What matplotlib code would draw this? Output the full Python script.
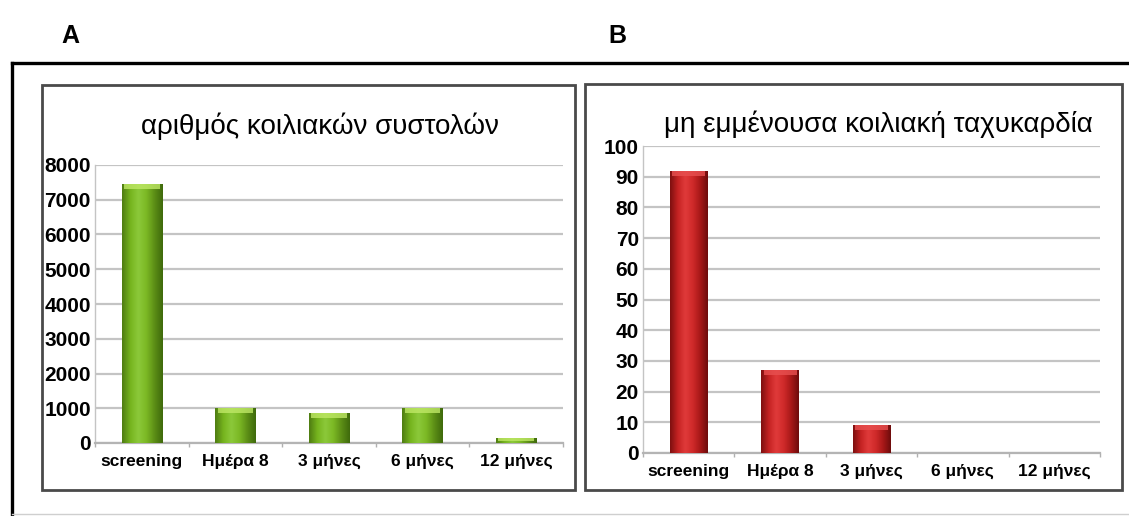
import numpy as np
import matplotlib
matplotlib.use("Agg")
import matplotlib.pyplot as plt
from matplotlib.patches import Rectangle
from matplotlib.lines import Line2D
from matplotlib.colors import LinearSegmentedColormap

plt.rcParams['font.family'] = ['Liberation Sans', 'DejaVu Sans']

categories = ["screening", "Ημέρα 8", "3 μήνες", "6 μήνες", "12 μήνες"]
pvc_values = [7450, 1000, 850, 1000, 130]
nsvt_values = [92, 27, 9, 0, 0]
title_a = "αριθμός κοιλιακών συστολών"
title_b = "μη εμμένουσα κοιλιακή ταχυκαρδία"
yticks_a = list(range(0, 8001, 1000))
yticks_b = list(range(0, 101, 10))

W, H = 1129, 516
fig = plt.figure(figsize=(W / 100, H / 100), dpi=100)
fig.patch.set_facecolor("white")

def fx(px):
    return px / W

def fy(py):
    return 1 - py / H

# outer frame
fig.add_artist(Line2D([fx(12), 1.0], [fy(63), fy(63)], color="black", lw=2.4))
fig.add_artist(Line2D([fx(12), fx(12)], [fy(63), 0.0], color="black", lw=2.4))
fig.add_artist(Line2D([fx(12), 1.0], [fy(514), fy(514)], color="#cfcfcf", lw=1.0))

# panel boxes
for (x0, y0, x1, y1) in [(42, 85, 575, 490), (585, 84, 1122, 490)]:
    fig.add_artist(Rectangle((fx(x0), fy(y1)), fx(x1) - fx(x0), fy(y0) - fy(y1),
                             fill=False, edgecolor="#4a4a4a", lw=2.0,
                             transform=fig.transFigure))

fig.text(fx(70), fy(36), "A", fontsize=18, fontweight="bold", ha="center", va="center")
fig.text(fx(617), fy(36), "B", fontsize=18, fontweight="bold", ha="center", va="center")

green_cmap = LinearSegmentedColormap.from_list(
    "g", ["#4f7d12", "#76b41e", "#8cc93a", "#7bb824", "#5c8e16", "#3f6a0c"])
red_cmap = LinearSegmentedColormap.from_list(
    "r", ["#7e1010", "#c42222", "#e03a3a", "#d02a2a", "#a81818", "#6e0c0c"])


def draw_panel(rect, values, yticks, ymax, title, title_xy, cmap, cap_color, width):
    ax = fig.add_axes(rect)
    x = np.arange(len(categories))
    bars = ax.bar(x, values, width=width, color="none", edgecolor="none", zorder=3)
    ax.set_xlim(-0.5, len(categories) - 0.5)
    ax.set_ylim(0, ymax)
    fig.canvas.draw()
    grad = np.linspace(0, 1, 64).reshape(1, -1)
    px_per_unit = ax.transData.transform((0, 1))[1] - ax.transData.transform((0, 0))[1]
    cap_h = 5 / px_per_unit
    for b in bars:
        h = b.get_height()
        if h <= 0:
            continue
        x0 = b.get_x()
        w = b.get_width()
        im = ax.imshow(grad, cmap=cmap, aspect="auto", extent=(x0, x0 + w, 0, h),
                       zorder=3, interpolation="bicubic")
        im.set_clip_path(b)
        ch = min(cap_h, h * 0.5)
        ax.add_patch(Rectangle((x0 + w * 0.06, h - ch), w * 0.88, ch,
                               facecolor=cap_color, edgecolor="none", alpha=0.8, zorder=4))
    ax.set_xlim(-0.5, len(categories) - 0.5)
    ax.set_ylim(0, ymax)
    ax.set_yticks(yticks)
    ax.set_yticklabels([str(t) for t in yticks], fontsize=15, fontweight="bold")
    ax.set_xticks(x)
    ax.set_xticklabels(categories, fontsize=12.5, fontweight="bold")
    ax.tick_params(axis="x", length=0, pad=8)
    ax.tick_params(axis="y", length=0, pad=3)
    ax.set_xticks(np.arange(len(categories) + 1) - 0.5, minor=True)
    ax.tick_params(axis="x", which="minor", length=3, color="#b0b0b0", width=1)
    ax.yaxis.grid(True, color="#c4c4c4", lw=1.6, zorder=0)
    ax.set_axisbelow(True)
    for s in ["top", "right"]:
        ax.spines[s].set_visible(False)
    ax.spines["left"].set_color("#c4c4c4")
    ax.spines["left"].set_linewidth(1.0)
    ax.spines["bottom"].set_color("#b4b4b4")
    ax.spines["bottom"].set_linewidth(1.6)
    ax.set_facecolor("none")
    fig.text(fx(title_xy[0]), fy(title_xy[1]), title, fontsize=20,
             ha="center", va="center")
    return ax


draw_panel([fx(95), fy(443), fx(563) - fx(95), fy(165) - fy(443)],
           pvc_values, yticks_a, 8000, title_a, (320, 126), green_cmap, "#bfe866", 0.43)
draw_panel([fx(643), fy(453), fx(1100) - fx(643), fy(146) - fy(453)],
           nsvt_values, yticks_b, 100, title_b, (878, 124), red_cmap, "#e85050", 0.41)

fig.savefig("out.png", dpi=100, facecolor="white")
